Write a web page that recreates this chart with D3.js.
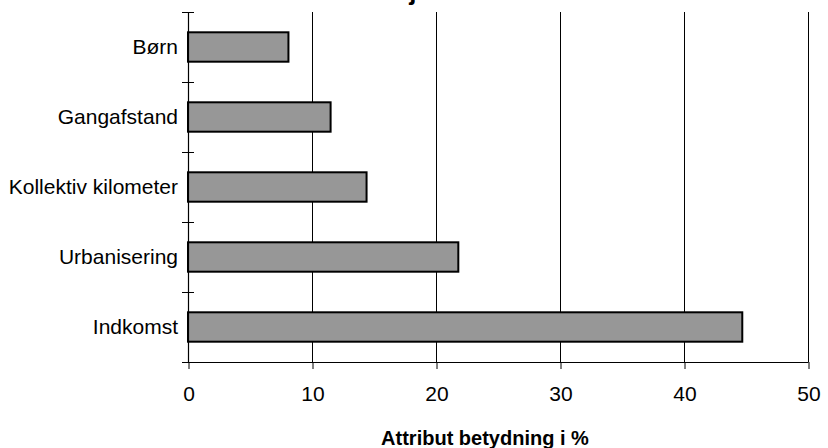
<!DOCTYPE html>
<html>
<head>
<meta charset="utf-8">
<script src="https://cdn.jsdelivr.net/npm/d3@7"></script>
<style>
  html, body { margin: 0; padding: 0; background: #fff; }
  svg { display: block; font-family: "Liberation Sans", Arial, sans-serif; }
</style>
</head>
<body>
<svg id="chart" width="828" height="448"></svg>
<script>
const categories = ["Børn", "Gangafstand", "Kollektiv kilometer", "Urbanisering", "Indkomst"];
const values = [8.1, 11.5, 14.4, 21.8, 44.7];
const xTicks = [0, 10, 20, 30, 40, 50];
const chartTitle = "Bilejerskab";
const xTitle = "Attribut betydning i %";

(function () {
const svg = d3.select("#chart");
const mLeft = 188, mRight = 808, mTop = 12, mBottom = 362;

const x = d3.scaleLinear().domain([0, 50]).range([mLeft, mRight]);
const y = d3.scaleBand().domain(categories).range([mTop, mBottom]).padding(0);
const barH = y.bandwidth() * 0.42;

// gridlines
svg.append("g").selectAll("line").data(xTicks.filter(d => d > 0)).join("line")
  .attr("x1", d => x(d) + 0.5).attr("x2", d => x(d) + 0.5)
  .attr("y1", mTop).attr("y2", mBottom)
  .attr("stroke", "#000").attr("stroke-width", 1);

// bars
svg.append("g").selectAll("rect").data(categories).join("rect")
  .attr("x", x(0))
  .attr("y", d => y(d) + (y.bandwidth() - barH) / 2)
  .attr("width", (d, i) => x(values[i]) - x(0))
  .attr("height", barH)
  .attr("fill", "#979797")
  .attr("stroke", "#000")
  .attr("stroke-width", 2);

// bottom axis
const xAxis = d3.axisBottom(x).tickValues(xTicks).tickSize(7).tickPadding(17).tickFormat(d3.format("d"));
const gx = svg.append("g").attr("transform", `translate(0.5,${mBottom})`).call(xAxis);
gx.select(".domain").attr("d", `M${mLeft},0.5H${mRight}`).attr("stroke", "#000").attr("stroke-width", 1.2);
gx.selectAll(".tick line").attr("stroke", "#000");
gx.selectAll(".tick text").attr("font-size", 21).attr("fill", "#000")
  .attr("font-family", "Liberation Sans, Arial, sans-serif");

// left axis: line with crossing ticks at band boundaries
const boundaries = categories.map(c => y(c)).concat([mBottom]);
svg.append("line").attr("x1", mLeft + 0.5).attr("x2", mLeft + 0.5)
  .attr("y1", mTop).attr("y2", mBottom).attr("stroke", "#000").attr("stroke-width", 1.2);
svg.append("g").selectAll("line").data(boundaries).join("line")
  .attr("x1", mLeft - 6).attr("x2", mLeft + 6)
  .attr("y1", d => d + 0.5).attr("y2", d => d + 0.5)
  .attr("stroke", "#000").attr("stroke-width", 1);

// category labels
svg.append("g").selectAll("text").data(categories).join("text")
  .attr("x", mLeft - 10)
  .attr("y", d => y(d) + y.bandwidth() / 2)
  .attr("dy", "0.35em")
  .attr("text-anchor", "end")
  .attr("font-size", 21)
  .attr("fill", "#000")
  .text(d => d);

// x-axis title
svg.append("text")
  .attr("x", 485).attr("y", 445)
  .attr("text-anchor", "middle")
  .attr("font-size", 20).attr("font-weight", "bold")
  .attr("fill", "#000")
  .text(xTitle);

// chart title (cut off at the top edge in the reference; only a descender shows)
svg.append("text")
  .attr("x", 431).attr("y", 0)
  .attr("text-anchor", "middle")
  .attr("font-size", 26).attr("font-weight", "bold")
  .attr("fill", "#000")
  .text(chartTitle);
})();
</script>
</body>
</html>
